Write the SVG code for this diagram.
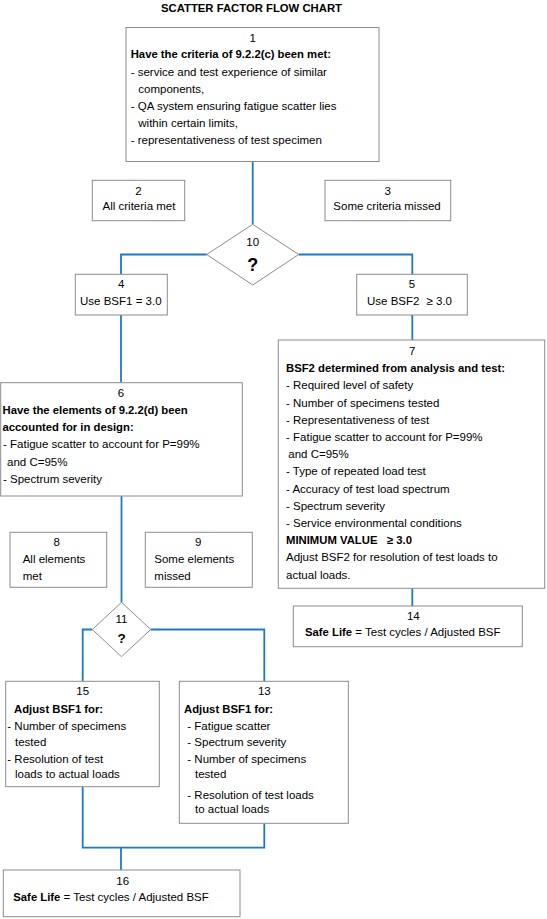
<svg xmlns="http://www.w3.org/2000/svg" width="547" height="919" viewBox="0 0 547 919">
<style>
text{font-family:"Liberation Sans",Arial,sans-serif;font-size:11.5px;fill:#000}
.b{font-weight:bold;font-size:11.3px}
.c{text-anchor:middle}
.q{font-weight:bold;text-anchor:middle}
.box{fill:#fff;stroke:#8c8c8c;stroke-width:1}
.con{fill:none;stroke:#1b7bc2;stroke-width:1.8}
</style>
<rect width="547" height="919" fill="#fff"/>
<text class="b c" x="251.5" y="11.5">SCATTER FACTOR FLOW CHART</text>
<g id="connectors">
<path class="con" d="M252.7,161.7V224.3"/>
<path class="con" d="M206.7,254.5H121V274.3"/>
<path class="con" d="M298.7,254.5H412.3V274.3"/>
<path class="con" d="M121,315V382.7"/>
<path class="con" d="M412.3,315V340"/>
<path class="con" d="M121.5,496V602.3"/>
<path class="con" d="M92.3,629.5H82.7V681.3"/>
<path class="con" d="M150.7,629.5H264.3V681.3"/>
<path class="con" d="M412.3,588.3V606"/>
<path class="con" d="M82.7,786.7V847.7H264.3V823.3"/>
<path class="con" d="M121,847.7V870"/>
</g>
<g id="n1">
<rect class="box" x="126" y="27.5" width="253" height="134"/>
<text class="c" x="252.7" y="41.7">1</text>
<text class="b" x="130.7" y="58.3">Have the criteria of 9.2.2(c) been met:</text>
<text x="130.7" y="75.5">- service and test experience of similar</text>
<text x="138.3" y="92.6">components,</text>
<text x="130.7" y="109.7">- QA system ensuring fatigue scatter lies</text>
<text x="138.3" y="126.8">within certain limits,</text>
<text x="130.7" y="144">- representativeness of test specimen</text>
</g>
<g id="n2">
<rect class="box" x="92.3" y="180.3" width="92.4" height="40.4"/>
<text class="c" x="138.5" y="195">2</text>
<text class="c" x="139" y="210.3">All criteria met</text>
</g>
<g id="n3">
<rect class="box" x="325" y="180.3" width="125.7" height="40.4"/>
<text class="c" x="387.8" y="195">3</text>
<text class="c" x="387" y="210.3">Some criteria missed</text>
</g>
<g id="n10">
<polygon class="box" points="252.7,224.3 298.7,254.5 252.7,285 206.7,254.5"/>
<text class="c" x="252.7" y="246">10</text>
<text class="q" x="252.7" y="271" style="font-size:18px">?</text>
</g>
<g id="n4">
<rect class="box" x="75.3" y="274.3" width="92" height="40.7"/>
<text class="c" x="121.3" y="288.3">4</text>
<text class="c" x="120.8" y="305">Use BSF1 = 3.0</text>
</g>
<g id="n5">
<rect class="box" x="356.7" y="274.3" width="110.6" height="40.7"/>
<text class="c" x="412" y="288.3">5</text>
<text x="367" y="305">Use BSF2</text>
<text x="426.5" y="305">≥ 3.0</text>
</g>
<g id="n6">
<rect class="box" x="0.7" y="382.7" width="241.6" height="113.3"/>
<text class="c" x="121" y="396.7">6</text>
<text class="b" x="2.5" y="414">Have the elements of 9.2.2(d) been</text>
<text class="b" x="2.5" y="431">accounted for in design:</text>
<text x="3" y="448.3">- Fatigue scatter to account for P=99%</text>
<text x="7" y="465.7">and C=95%</text>
<text x="3" y="482.7">- Spectrum severity</text>
</g>
<g id="n7">
<rect class="box" x="278.3" y="340" width="266.4" height="248.3"/>
<text class="c" x="412.3" y="355">7</text>
<text class="b" x="286" y="372.2">BSF2 determined from analysis and test:</text>
<text x="286" y="389.4">- Required level of safety</text>
<text x="286" y="406.6">- Number of specimens tested</text>
<text x="286" y="423.8">- Representativeness of test</text>
<text x="286" y="441">- Fatigue scatter to account for P=99%</text>
<text x="288.3" y="458.2">and C=95%</text>
<text x="286" y="475.4">- Type of repeated load test</text>
<text x="286" y="492.6">- Accuracy of test load spectrum</text>
<text x="286" y="509.8">- Spectrum severity</text>
<text x="286" y="527">- Service environmental conditions</text>
<text class="b" x="286" y="544.2">MINIMUM VALUE</text>
<text class="b" x="387" y="544.2">≥ 3.0</text>
<text x="286" y="561.4">Adjust BSF2 for resolution of test loads to</text>
<text x="286" y="578.6">actual loads.</text>
</g>
<g id="n8">
<rect class="box" x="10" y="532.3" width="96.7" height="55"/>
<text class="c" x="56.7" y="546">8</text>
<text x="22.7" y="563.3">All elements</text>
<text x="22.7" y="580">met</text>
</g>
<g id="n9">
<rect class="box" x="145.3" y="532.3" width="107" height="55"/>
<text class="c" x="198.3" y="546">9</text>
<text x="154.3" y="563.3">Some elements</text>
<text x="154.3" y="580">missed</text>
</g>
<g id="n11">
<polygon class="box" points="121.5,602.3 150.7,629.5 121.5,656.7 92.3,629.5"/>
<text class="c" x="121.5" y="622.7">11</text>
<text class="q" x="121.5" y="643" style="font-size:13.5px">?</text>
</g>
<g id="n14">
<rect class="box" x="293.3" y="606" width="229" height="40.7"/>
<text class="c" x="413.3" y="620">14</text>
<text x="305" y="636"><tspan class="b">Safe Life</tspan> = Test cycles / Adjusted BSF</text>
</g>
<g id="n15">
<rect class="box" x="5.7" y="681.3" width="153.6" height="105.4"/>
<text class="c" x="82.7" y="695">15</text>
<text class="b" x="14" y="713">Adjust BSF1 for:</text>
<text x="7.3" y="730">- Number of specimens</text>
<text x="15" y="746">tested</text>
<text x="7.3" y="763">- Resolution of test</text>
<text x="15" y="778">loads to actual loads</text>
</g>
<g id="n13">
<rect class="box" x="179.3" y="681.3" width="169" height="142"/>
<text class="c" x="264.3" y="695">13</text>
<text class="b" x="184" y="713">Adjust BSF1 for:</text>
<text x="187.3" y="729.5">- Fatigue scatter</text>
<text x="187.3" y="746">- Spectrum severity</text>
<text x="187.3" y="763">- Number of specimens</text>
<text x="195" y="778">tested</text>
<text x="187.3" y="799">- Resolution of test loads</text>
<text x="195" y="813">to actual loads</text>
</g>
<g id="n16">
<rect class="box" x="3.3" y="870" width="236.7" height="46.7"/>
<text class="c" x="122.7" y="885">16</text>
<text x="13.3" y="901"><tspan class="b">Safe Life</tspan> = Test cycles / Adjusted BSF</text>
</g>
</svg>
